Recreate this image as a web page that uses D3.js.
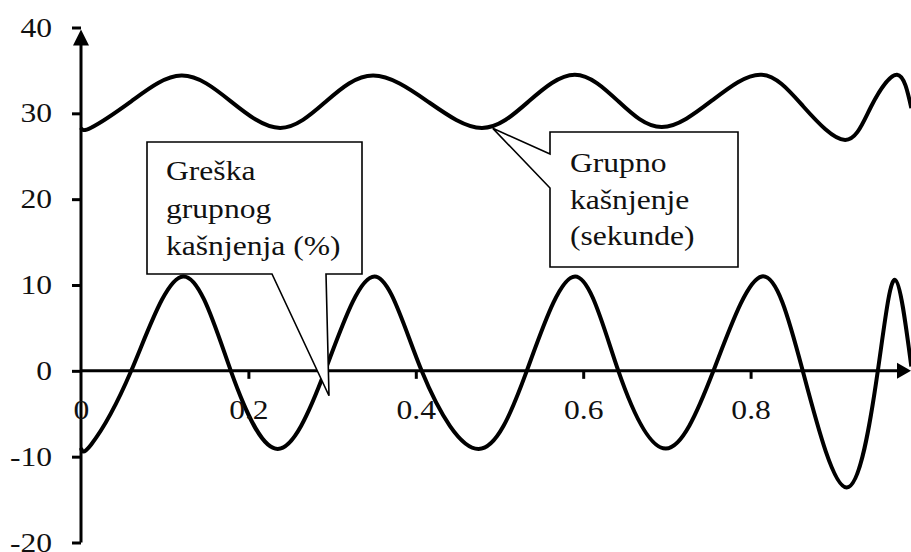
<!DOCTYPE html>
<html>
<head>
<meta charset="utf-8">
<script src="https://cdn.jsdelivr.net/npm/d3@7"></script>
<style>
  html, body { margin: 0; padding: 0; background: #fff; }
  svg { display: block; }
</style>
</head>
<body>
<svg id="chart" width="911" height="552"></svg>
<script>
// Group delay (seconds): troughs, mid-crossings and peaks
const delayX = [0, 0.012, 0.06, 0.12, 0.179, 0.238, 0.293, 0.349, 0.414, 0.479,
  0.535, 0.59, 0.642, 0.694, 0.754, 0.813, 0.863, 0.913, 0.944, 0.975, 0.992];
const delayY = [28.3, 28.33, 31.4, 34.4, 31.4, 28.3, 31.4, 34.4, 31.4, 28.3,
  31.4, 34.5, 31.4, 28.4, 31.5, 34.5, 30.8, 26.9, 30.8, 34.5, 30.6];

// Group delay error (%): troughs, zero crossings and peaks
const errX = [0, 0.012, 0.06, 0.122, 0.179, 0.235, 0.2916, 0.3506, 0.407, 0.475,
  0.5326, 0.5903, 0.642, 0.6987, 0.7556, 0.8134, 0.8623, 0.9149, 0.952, 0.9726, 0.992];
const errY = [-9.0, -8.6, 0, 11.0, 0, -9.1, 0, 11.0, 0, -9.1,
  0, 11.0, 0, -9.05, 0, 11.0, 0, -13.6, 0, 10.6, 0.5];

const yTicks = [-20, -10, 0, 10, 20, 30, 40];
const xTicks = [0, 0.2, 0.4, 0.6, 0.8];

const labelError = ['Greška', 'grupnog', 'kašnjenja (%)'];
const labelDelay = ['Grupno', 'kašnjenje', '(sekunde)'];

const width = 911;
const height = 552;
const font = '"Liberation Serif", "Times New Roman", serif';
const fontSize = 27;
const stretch = 1.17; // text in the original is a bit wider than tall

const svg = d3.select('#chart');

const x = d3.scaleLinear().domain([0, 1]).range([81, 918]);
const y = d3.scaleLinear().domain([-20, 40]).range([542.5, 27.5]);

const line = d3.line()
  .x(d => x(d[0]))
  .y(d => y(d[1]))
  .curve(d3.curveNatural);

const delayData = delayX.map((v, i) => [v, delayY[i]]);
const errData = errX.map((v, i) => [v, errY[i]]);

// curves
[delayData, errData].forEach(data => {
  svg.append('path')
    .datum(data)
    .attr('fill', 'none')
    .attr('stroke', '#000')
    .attr('stroke-width', 4)
    .attr('stroke-linejoin', 'round')
    .attr('d', line);
});

// stretch axis labels horizontally around their anchor
function stretchText(sel) {
  sel.each(function () {
    const t = d3.select(this);
    const tx = +t.attr('x') || 0;
    t.attr('x', 0).attr('transform', `translate(${tx},0) scale(${stretch},1)`);
  });
}

// y axis
const yAxis = svg.append('g')
  .attr('transform', `translate(${x(0)},0)`)
  .call(d3.axisLeft(y).tickValues(yTicks).tickSize(9).tickPadding(20).tickFormat(d => String(d)));
yAxis.select('.domain').remove();
yAxis.selectAll('.tick line').attr('stroke', '#000').attr('stroke-width', 3);
yAxis.selectAll('.tick text')
  .attr('font-family', font)
  .attr('font-size', fontSize)
  .attr('fill', '#111')
  .call(stretchText);

svg.append('line')
  .attr('x1', x(0)).attr('x2', x(0))
  .attr('y1', y(-20)).attr('y2', y(40) + 10)
  .attr('stroke', '#000').attr('stroke-width', 3);
svg.append('path')
  .attr('d', `M${x(0)},${y(40) + 2}L${x(0) - 8},${y(40) + 18}L${x(0) + 8},${y(40) + 18}Z`)
  .attr('fill', '#000');

// x axis
const xAxis = svg.append('g')
  .attr('transform', `translate(0,${y(0)})`)
  .call(d3.axisBottom(x).tickValues(xTicks).tickSize(8).tickPadding(21).tickFormat(d => String(d)));
xAxis.select('.domain').remove();
xAxis.selectAll('.tick line').attr('stroke', '#000').attr('stroke-width', 3)
  .attr('opacity', d => d === 0 ? 0 : 1);
xAxis.selectAll('.tick text')
  .attr('font-family', font)
  .attr('font-size', fontSize)
  .attr('fill', '#111')
  .call(stretchText);

svg.append('line')
  .attr('x1', x(0)).attr('x2', width - 8)
  .attr('y1', y(0)).attr('y2', y(0))
  .attr('stroke', '#000').attr('stroke-width', 3);
svg.append('path')
  .attr('d', `M${width},${y(0)}L${width - 14},${y(0) - 8}L${width - 14},${y(0) + 8}Z`)
  .attr('fill', '#000');

// callouts
function callout(points, lines, tx, ty0, lh) {
  svg.append('path')
    .attr('d', 'M' + points.map(p => p.join(',')).join('L') + 'Z')
    .attr('fill', '#fff')
    .attr('stroke', '#000')
    .attr('stroke-width', 1.6)
    .attr('stroke-linejoin', 'miter');
  lines.forEach((s, i) => {
    svg.append('text')
      .attr('transform', `translate(${tx},${ty0 + i * lh}) scale(${stretch},1)`)
      .attr('font-family', font)
      .attr('font-size', fontSize)
      .attr('fill', '#111')
      .text(s);
  });
}

const tip1 = [x(0.2963), y(-2.9)];
callout([[147, 142], [362, 142], [362, 274], [326, 274], tip1, [272, 274], [147, 274]],
  labelError, 166, 180, 37.5);

const tip2 = [x(0.492), y(28.25)];
callout([[550, 132], [738, 132], [738, 267], [550, 267], [550, 188], tip2, [550, 154]],
  labelDelay, 570, 172, 36.5);
</script>
</body>
</html>
